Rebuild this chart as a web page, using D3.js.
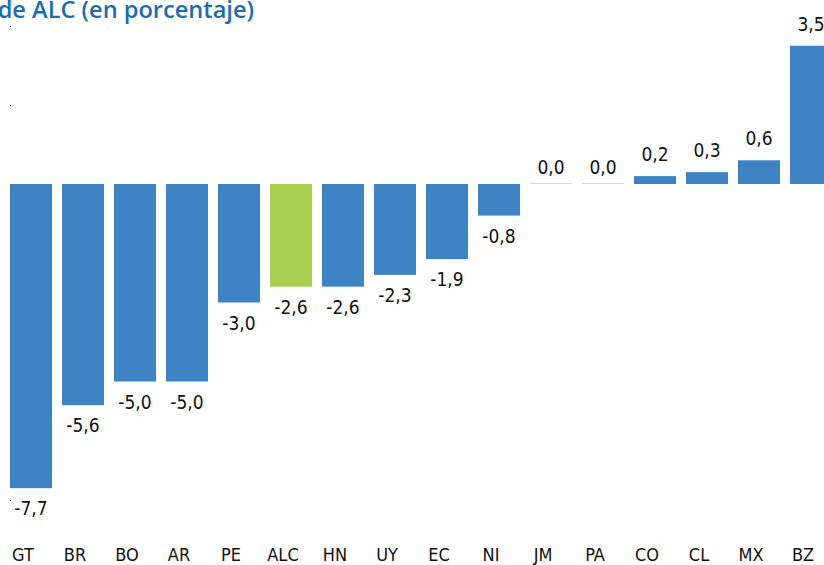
<!DOCTYPE html>
<html>
<head>
<meta charset="utf-8">
<script src="https://cdn.jsdelivr.net/npm/d3@7"></script>
<style>
  html, body { margin: 0; padding: 0; background: #fff; }
  svg { display: block; }
  .lbl { font-family: "DejaVu Sans", sans-serif; font-stretch: condensed; }
  .title { font-family: "Open Sans", "DejaVu Sans", sans-serif; font-weight: 600; }
</style>
</head>
<body>
<div id="chart"></div>
<script>
"use strict";

// country codes, left to right
const categories = ["GT", "BR", "BO", "AR", "PE", "ALC", "HN", "UY", "EC", "NI", "JM", "PA", "CO", "CL", "MX", "BZ"];
// change in percent
const values = [-7.7, -5.6, -5.0, -5.0, -3.0, -2.6, -2.6, -2.3, -1.9, -0.8, 0.0, 0.0, 0.2, 0.3, 0.6, 3.5];
const highlight = ["ALC"];
const yTicks = [-8, -6, -4, -2, 0, 2, 4];
const titleText = "de ALC (en porcentaje)";

const width = 824;
const height = 565;

const svg = d3.select("#chart")
    .append("svg")
    .attr("width", width)
    .attr("height", height);

const x = d3.scaleBand()
    .domain(categories)
    .range([10, 832])
    .paddingInner(10 / 52)
    .paddingOuter(0);

const y = d3.scaleLinear()
    .domain([-8, 4])
    .range([500, 26]);

const fmt = v => d3.format(".1f")(v).replace(".", ",").replace("−", "-");

// title (its start is cut off on the left in the original)
svg.append("text")
    .attr("class", "title")
    .attr("x", 254)
    .attr("y", 18)
    .attr("text-anchor", "end")
    .attr("fill", "#1b6db3")
    .attr("font-size", 23.6)
    .text(titleText);

// tiny tick marks on the invisible y axis
svg.selectAll("rect.tick")
    .data(yTicks)
    .enter()
    .append("rect")
    .attr("class", "tick")
    .attr("x", 10)
    .attr("y", d => Math.round(y(d)))
    .attr("width", 1)
    .attr("height", 1)
    .attr("fill", "#333");

const data = categories.map((c, i) => ({cat: c, value: values[i]}));

// bars
svg.selectAll("rect.bar")
    .data(data)
    .enter()
    .append("rect")
    .attr("class", "bar")
    .attr("x", d => x(d.cat))
    .attr("width", x.bandwidth())
    .attr("y", d => d.value === 0 ? y(0) - 1 : Math.min(y(d.value), y(0)))
    .attr("height", d => d.value === 0 ? 1 : Math.abs(y(d.value) - y(0)))
    .attr("fill", d => highlight.includes(d.cat) ? "#acd052" : "#3e84c5")
    .attr("fill-opacity", d => d.value === 0 ? 0.3 : 1);

// value labels
svg.selectAll("text.val")
    .data(data)
    .enter()
    .append("text")
    .attr("class", "lbl val")
    .attr("x", d => x(d.cat) + x.bandwidth() / 2)
    .attr("y", d => {
        if (d.value < 0) return y(d.value) + 27;
        if (d.value === 0) return y(0) - 10;
        return y(d.value) - 15;
    })
    .attr("text-anchor", "middle")
    .attr("fill", "#111")
    .attr("font-size", 19)
    .text(d => fmt(d.value));

// category labels
svg.selectAll("text.cat")
    .data(data)
    .enter()
    .append("text")
    .attr("class", "lbl cat")
    .attr("x", d => x(d.cat) + x.bandwidth() / 2 - 8)
    .attr("y", 561)
    .attr("text-anchor", "middle")
    .attr("fill", "#111")
    .attr("font-size", 18)
    .text(d => d.cat);
</script>
</body>
</html>
